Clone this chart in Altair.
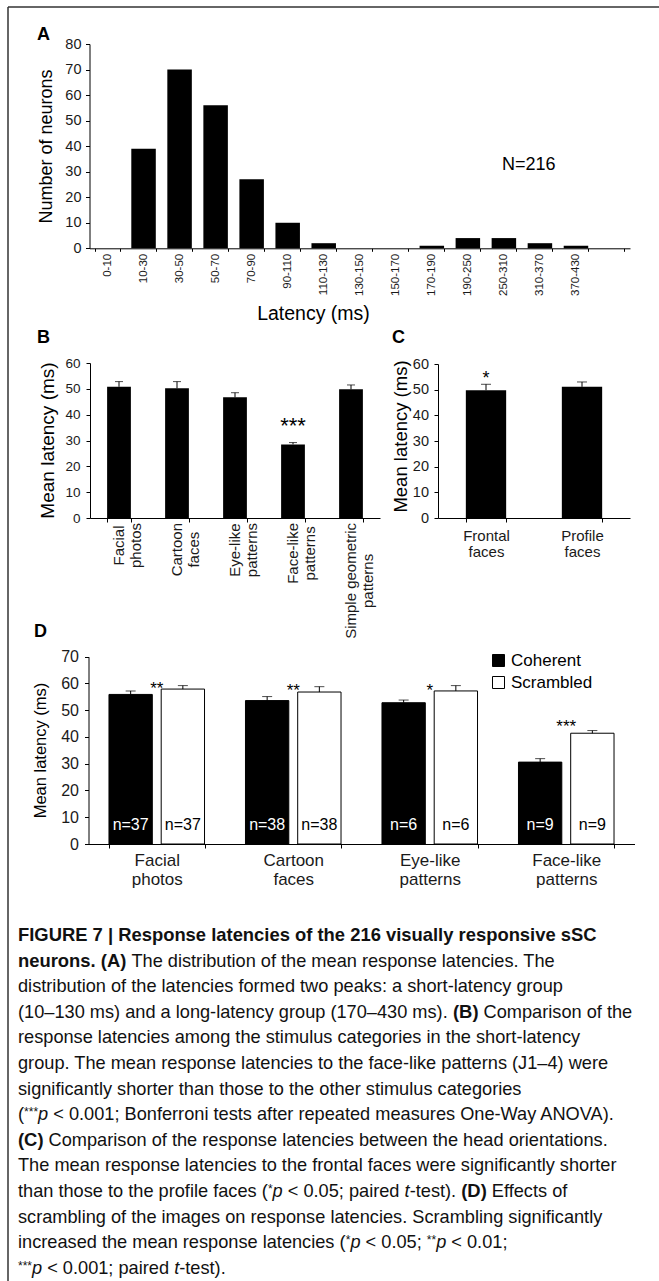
import altair as alt
import pandas as pd

W, H = 659, 1281
FONT = "Liberation Sans"
INK = "#000000"
LAB = "#1a1a1a"

# ---------------- Panel A data ----------------
latency_bins = ["0-10", "10-30", "30-50", "50-70", "70-90", "90-110", "110-130",
                "130-150", "150-170", "170-190", "190-250", "250-310", "310-370", "370-430"]
neuron_counts = [0, 39, 70, 56, 27, 10, 2, 0, 0, 1, 4, 4, 2, 1]
a_note = ["N=216"]
a_ticks = [0, 10, 20, 30, 40, 50, 60, 70, 80]

# ---------------- Panel B data ----------------
stim_categories = ["Facial\nphotos", "Cartoon\nfaces", "Eye-like\npatterns",
                   "Face-like\npatterns", "Simple geometric\npatterns"]
stim_mean = [50.8, 50.2, 46.7, 28.5, 49.8]
stim_err_top = [52.8, 52.8, 48.5, 29.2, 51.5]
b_sig_cat = ["Face-like\npatterns"]
b_sig_text = ["***"]
b_sig_y = [32.9]
b_ticks = [0, 10, 20, 30, 40, 50, 60]

# ---------------- Panel C data ----------------
orient_categories = ["Frontal\nfaces", "Profile\nfaces"]
orient_mean = [49.8, 51.1]
orient_err_top = [52.1, 53.0]
c_sig_cat = ["Frontal\nfaces"]
c_sig_text = ["*"]
c_sig_y = [52.1]

# ---------------- Panel D data ----------------
d_categories = ["Facial\nphotos", "Cartoon\nfaces", "Eye-like\npatterns", "Face-like\npatterns"]
d_conditions = ["Coherent", "Scrambled"]
coherent_mean = [55.9, 53.6, 52.8, 30.6]
coherent_err_top = [57.2, 55.1, 53.8, 31.9]
scrambled_mean = [57.9, 56.8, 57.2, 41.4]
scrambled_err_top = [59.2, 58.8, 59.2, 42.4]
coherent_n = ["n=37", "n=38", "n=6", "n=9"]
scrambled_n = ["n=37", "n=38", "n=6", "n=9"]
d_sig_text = ["**", "**", "*", "***"]
d_sig_y = [56.1, 55.4, 55.2, 41.7]
d_ticks = [0, 10, 20, 30, 40, 50, 60, 70]

panel_letters = ["A", "B", "C", "D"]

# ---------------- Caption ----------------
caption_lines = [
    [("b", "FIGURE 7 | Response latencies of the 216 visually responsive sSC")],
    [("b", "neurons. (A)"), ("n", " The distribution of the mean response latencies. The")],
    [("n", "distribution of the latencies formed two peaks: a short-latency group")],
    [("n", "(10–130 ms) and a long-latency group (170–430 ms). "), ("b", "(B)"), ("n", " Comparison of the")],
    [("n", "response latencies among the stimulus categories in the short-latency")],
    [("n", "group. The mean response latencies to the face-like patterns (J1–4) were")],
    [("n", "significantly shorter than those to the other stimulus categories")],
    [("n", "("), ("s", "***"), ("i", "p"), ("n", " < 0.001; Bonferroni tests after repeated measures One-Way ANOVA).")],
    [("b", "(C)"), ("n", " Comparison of the response latencies between the head orientations.")],
    [("n", "The mean response latencies to the frontal faces were significantly shorter")],
    [("n", "than those to the profile faces ("), ("s", "*"), ("i", "p"), ("n", " < 0.05; paired "),
     ("i", "t"), ("n", "-test). "), ("b", "(D)"), ("n", " Effects of")],
    [("n", "scrambling of the images on response latencies. Scrambling significantly")],
    [("n", "increased the mean response latencies ("), ("s", "*"), ("i", "p"), ("n", " < 0.05; "),
     ("s", "**"), ("i", "p"), ("n", " < 0.01;")],
    [("s", "***"), ("i", "p"), ("n", " < 0.001; paired "), ("i", "t"), ("n", "-test).")],
]

# ---------------- font metrics (Arial / Liberation Sans, 1/1000 em) ----------------
REG = {' ': 278, '!': 278, '"': 355, '#': 556, '$': 556, '%': 889, '&': 667, "'": 191, '(': 333, ')': 333,
       '*': 389, '+': 584, ',': 278, '-': 333, '.': 278, '/': 278, ':': 278, ';': 278, '<': 584, '=': 584,
       '>': 584, '?': 556, '|': 260, '–': 556}
BOLD = {' ': 278, '!': 333, '(': 333, ')': 333, '*': 389, ',': 278, '-': 333, '.': 278, ':': 333, ';': 333,
        '|': 280, '<': 584, '=': 584, '–': 556}
for d in "0123456789":
    REG[d] = 556
    BOLD[d] = 556
for ch, w in zip("ABCDEFGHIJKLMNOPQRSTUVWXYZ",
                 [667, 667, 722, 722, 667, 611, 778, 722, 278, 500, 667, 556, 833, 722, 778, 667, 778, 722, 667,
                  611, 722, 667, 944, 667, 667, 611]):
    REG[ch] = w
for ch, w in zip("abcdefghijklmnopqrstuvwxyz",
                 [556, 556, 500, 556, 556, 278, 556, 556, 222, 222, 500, 222, 833, 556, 556, 556, 556, 333, 500,
                  278, 556, 500, 722, 500, 500, 500]):
    REG[ch] = w
for ch, w in zip("ABCDEFGHIJKLMNOPQRSTUVWXYZ",
                 [722, 722, 722, 722, 667, 611, 778, 722, 278, 556, 722, 611, 833, 722, 778, 667, 778, 722, 667,
                  611, 722, 667, 944, 667, 667, 611]):
    BOLD[ch] = w
for ch, w in zip("abcdefghijklmnopqrstuvwxyz",
                 [556, 611, 556, 611, 556, 333, 611, 611, 278, 278, 556, 278, 889, 611, 611, 611, 611, 389, 556,
                  333, 611, 556, 778, 556, 556, 500]):
    BOLD[ch] = w


def text_width(s, bold, size):
    table = BOLD if bold else REG
    return sum(table.get(ch, 556) for ch in s) * size / 1000.0


# ---------------- helpers ----------------
def y_axis(ax_x, ticks, lab_size, lab_pad, title, t_size, t_cx, t_cy):
    return alt.Axis(orient="left", offset=-ax_x, values=ticks, grid=False,
                    domainColor=INK, domainWidth=1, tickColor=INK, tickWidth=1, tickSize=4,
                    labelFont=FONT, labelFontSize=lab_size, labelColor=LAB, labelPadding=lab_pad,
                    title=title, titleFont=FONT, titleFontSize=t_size, titleFontWeight="normal",
                    titleColor=INK, titleAngle=270, titleAlign="center", titleBaseline="middle",
                    titleX=t_cx - ax_x, titleY=t_cy)


def x_axis(ax_y, **kw):
    base = dict(orient="bottom", offset=ax_y - H, domainColor=INK, domainWidth=1, tickColor=INK,
                tickWidth=1, tickSize=4, tickBand="extent", labelFont=FONT, labelColor=LAB,
                labelOverlap=False, grid=False)
    base.update(kw)
    return alt.Axis(**base)


# ---------------- Panel A ----------------
A_X = [89.5, 630]
A_Y = [248.3, 44]
dfA = pd.DataFrame({"bin": latency_bins, "count": neuron_counts})
barsA = alt.Chart(dfA).mark_bar(color=INK).encode(
    x=alt.X("bin:N",
            scale=alt.Scale(domain=latency_bins + [" "], range=A_X, paddingInner=0.32, paddingOuter=0.16),
            axis=x_axis(A_Y[0], labelAngle=270, labelFontSize=11.5, labelPadding=2, tickSize=3,
                        title="Latency (ms)", titleFont=FONT, titleFontSize=19.5, titleFontWeight="normal",
                        titleColor=INK, titleX=313, titleY=319 - A_Y[0], titleAlign="center",
                        titleBaseline="alphabetic")),
    y=alt.Y("count:Q", scale=alt.Scale(domain=[0, 80], range=A_Y, nice=False),
            axis=y_axis(A_X[0], a_ticks, 14.5, 4.5, "Number of neurons", 18, 46.2, 146)),
)
noteA = alt.Chart(pd.DataFrame({"t": a_note})).mark_text(
    font=FONT, fontSize=18, align="left", baseline="alphabetic", color=INK
).encode(text="t:N", x=alt.value(502), y=alt.value(170))

# ---------------- Panel B ----------------
B_X = [90, 380]
B_Y = [518, 363]
xB_scale = alt.Scale(domain=stim_categories, range=B_X, paddingInner=0.59, paddingOuter=0.295)
yB_scale = alt.Scale(domain=[0, 60], range=B_Y, nice=False)
dfB = pd.DataFrame({"cat": stim_categories, "mean": stim_mean, "err": stim_err_top})
baseB = alt.Chart(dfB)
barsB = baseB.mark_bar(color=INK).encode(
    x=alt.X("cat:N", scale=xB_scale, axis=x_axis(B_Y[0], labels=False, title=None)),
    y=alt.Y("mean:Q", scale=yB_scale,
            axis=y_axis(B_X[0], b_ticks, 13.5, 6, "Mean latency (ms)", 19, 47, 440)),
)
errB = baseB.mark_rule(color=INK, strokeWidth=1).encode(x="cat:N", y="mean:Q", y2="err:Q")
capB = baseB.mark_tick(color=INK, thickness=1, size=8).encode(x="cat:N", y="err:Q")
sigB = alt.Chart(pd.DataFrame({"cat": b_sig_cat, "sy": b_sig_y, "t": b_sig_text})).mark_text(
    font=FONT, fontSize=22, baseline="alphabetic", color=INK
).encode(x="cat:N", y="sy:Q", text="t:N")
panelB = alt.layer(barsB, errB, capB, sigB)

label_centers = [B_Y[0] + 5 + max(text_width(l, False, 15) for l in c.split("\n")) / 2.0
                 for c in stim_categories]
labB = alt.Chart(pd.DataFrame({"cat": stim_categories, "ly": label_centers})).transform_calculate(
    lines="split(datum.cat, '\\n')"
).mark_text(font=FONT, fontSize=15, angle=270, align="center", baseline="middle", lineHeight=17,
            color=LAB).encode(
    x=alt.X("cat:N", scale=xB_scale, axis=None),
    y=alt.Y("ly:Q", scale=None),
    text=alt.Text("lines:N"),
)

# ---------------- Panel C ----------------
C_X = [438, 630]
C_Y = [518, 364]
dfC = pd.DataFrame({"cat": orient_categories, "mean": orient_mean, "err": orient_err_top})
baseC = alt.Chart(dfC)
barsC = baseC.mark_bar(color=INK).encode(
    x=alt.X("cat:N", scale=alt.Scale(domain=orient_categories, range=C_X, paddingInner=0.58, paddingOuter=0.29),
            axis=x_axis(C_Y[0], labelExpr="split(datum.label, '\\n')", labelAngle=0, labelAlign="center",
                        labelBaseline="top", labelFontSize=15, labelLineHeight=16.5, labelPadding=6,
                        title=None)),
    y=alt.Y("mean:Q", scale=alt.Scale(domain=[0, 60], range=C_Y, nice=False),
            axis=y_axis(C_X[0], b_ticks, 14.5, 5.5, "Mean latency (ms)", 18.5, 400, 436)),
)
errC = baseC.mark_rule(color=INK, strokeWidth=1).encode(x="cat:N", y="mean:Q", y2="err:Q")
capC = baseC.mark_tick(color=INK, thickness=1, size=10).encode(x="cat:N", y="err:Q")
sigC = alt.Chart(pd.DataFrame({"cat": c_sig_cat, "sy": c_sig_y, "t": c_sig_text})).mark_text(
    font=FONT, fontSize=18, baseline="alphabetic", color=INK
).encode(x="cat:N", y="sy:Q", text="t:N")
panelC = alt.layer(barsC, errC, capC, sigC)

# ---------------- Panel D ----------------
D_X = [88.5, 634.5]
D_Y = [844, 656.7]
rows = []
for i, c in enumerate(d_categories):
    rows.append({"cat": c, "cond": d_conditions[0], "mean": coherent_mean[i],
                 "err": coherent_err_top[i], "n": coherent_n[i]})
    rows.append({"cat": c, "cond": d_conditions[1], "mean": scrambled_mean[i],
                 "err": scrambled_err_top[i], "n": scrambled_n[i]})
dfD = pd.DataFrame(rows)
xD_scale = alt.Scale(domain=d_categories, range=D_X, paddingInner=0.3, paddingOuter=0.15)
xo_scale = alt.Scale(domain=d_conditions, paddingInner=0.17, paddingOuter=0)
baseD = alt.Chart(dfD)
barsD = baseD.mark_bar(stroke=INK, strokeWidth=1).encode(
    x=alt.X("cat:N", scale=xD_scale,
            axis=x_axis(D_Y[0], labelExpr="split(datum.label, '\\n')", labelAngle=0, labelAlign="center",
                        labelBaseline="top", labelFontSize=17, labelLineHeight=19, labelPadding=4,
                        title=None)),
    xOffset=alt.XOffset("cond:N", scale=xo_scale),
    y=alt.Y("mean:Q", scale=alt.Scale(domain=[0, 70], range=D_Y, nice=False),
            axis=y_axis(D_X[0], d_ticks, 16, 6, "Mean latency (ms)", 16.5, 40, 750)),
    fill=alt.Fill("cond:N", scale=alt.Scale(domain=d_conditions, range=["#000000", "#ffffff"]),
                  legend=alt.Legend(orient="none", legendX=490, legendY=652, title=None,
                                    symbolType="square", symbolSize=144, symbolStrokeColor=INK,
                                    symbolStrokeWidth=1, symbolOpacity=1, labelFont=FONT,
                                    labelFontSize=17, labelColor=INK, rowPadding=4, labelOffset=4,
                                    padding=0)),
)
errD = baseD.mark_rule(color=INK, strokeWidth=1).encode(
    x="cat:N", xOffset="cond:N", y="mean:Q", y2="err:Q")
capD = baseD.mark_tick(color=INK, thickness=1, size=10).encode(
    x="cat:N", xOffset="cond:N", y="err:Q")
nCoh = baseD.transform_filter(alt.datum.cond == d_conditions[0]).mark_text(
    font=FONT, fontSize=16, color="#ffffff", baseline="alphabetic", dy=-14
).encode(x="cat:N", xOffset="cond:N", y=alt.datum(0), text="n:N")
nScr = baseD.transform_filter(alt.datum.cond == d_conditions[1]).mark_text(
    font=FONT, fontSize=16, color=INK, baseline="alphabetic", dy=-14
).encode(x="cat:N", xOffset="cond:N", y=alt.datum(0), text="n:N")
sigD = alt.Chart(pd.DataFrame({"cat": d_categories, "sy": d_sig_y, "t": d_sig_text})).mark_text(
    font=FONT, fontSize=17, baseline="alphabetic", color=INK
).encode(x="cat:N", y="sy:Q", text="t:N")
panelD = alt.layer(barsD, errD, capD, nCoh, nScr, sigD)

# ---------------- panel letters ----------------
letter_x = [37, 37, 392, 34]
letter_y = [40, 343, 343, 637]
letters = alt.Chart(pd.DataFrame({"t": panel_letters, "lx": letter_x, "ly": letter_y})).mark_text(
    font=FONT, fontSize=18, fontWeight="bold", align="left", baseline="alphabetic", color=INK
).encode(x=alt.X("lx:Q", scale=None), y=alt.Y("ly:Q", scale=None), text="t:N")

# ---------------- caption layout ----------------
CAP_X0, CAP_Y0, CAP_LH, CAP_SIZE, BOLD_SIZE, SMALL = 18, 941, 25.6, 18.2, 18.4, 12
cap_rows = []
for li, segs in enumerate(caption_lines):
    x = CAP_X0
    for kind, txt in segs:
        size = SMALL if kind == "s" else (BOLD_SIZE if kind == "b" else CAP_SIZE)
        stripped = txt.lstrip(" ")
        lead = len(txt) - len(stripped)
        x += lead * text_width(" ", kind == "b", size)
        cap_rows.append({"t": stripped, "cx": x, "cy": CAP_Y0 + li * CAP_LH, "kind": kind})
        x += text_width(stripped, kind == "b", size)
dfCap = pd.DataFrame(cap_rows)
cap_layers = []
for kind, weight, style, size, dy in [("n", "normal", "normal", CAP_SIZE, 0),
                                      ("b", "bold", "normal", BOLD_SIZE, 0),
                                      ("i", "normal", "italic", CAP_SIZE, 0),
                                      ("s", "normal", "normal", SMALL, -4)]:
    cap_layers.append(
        alt.Chart(dfCap).transform_filter(alt.datum.kind == kind).mark_text(
            font=FONT, fontSize=size, fontWeight=weight, fontStyle=style, align="left",
            baseline="alphabetic", color="#111111", dy=dy
        ).encode(x=alt.X("cx:Q", scale=None), y=alt.Y("cy:Q", scale=None), text="t:N")
    )

# ---------------- frame ----------------
frame_data = alt.Data(values=[{}])
frameTop = alt.Chart(frame_data).mark_rule(color="#333333", strokeWidth=1.5).encode(
    x=alt.value(8), x2=alt.value(W), y=alt.value(7))
frameLeft = alt.Chart(frame_data).mark_rule(color="#333333", strokeWidth=1.5).encode(
    x=alt.value(8), y=alt.value(7), y2=alt.value(H))

chart = alt.layer(
    barsA, noteA, panelB, labB, panelC, panelD, letters, *cap_layers, frameTop, frameLeft
).resolve_scale(
    x="independent", y="independent"
).properties(
    width=W, height=H, autosize=alt.AutoSizeParams(type="none"), padding=0, background="white"
).configure_view(stroke=None)

chart.save("out.html", embed_options={"renderer": "svg", "actions": False})
